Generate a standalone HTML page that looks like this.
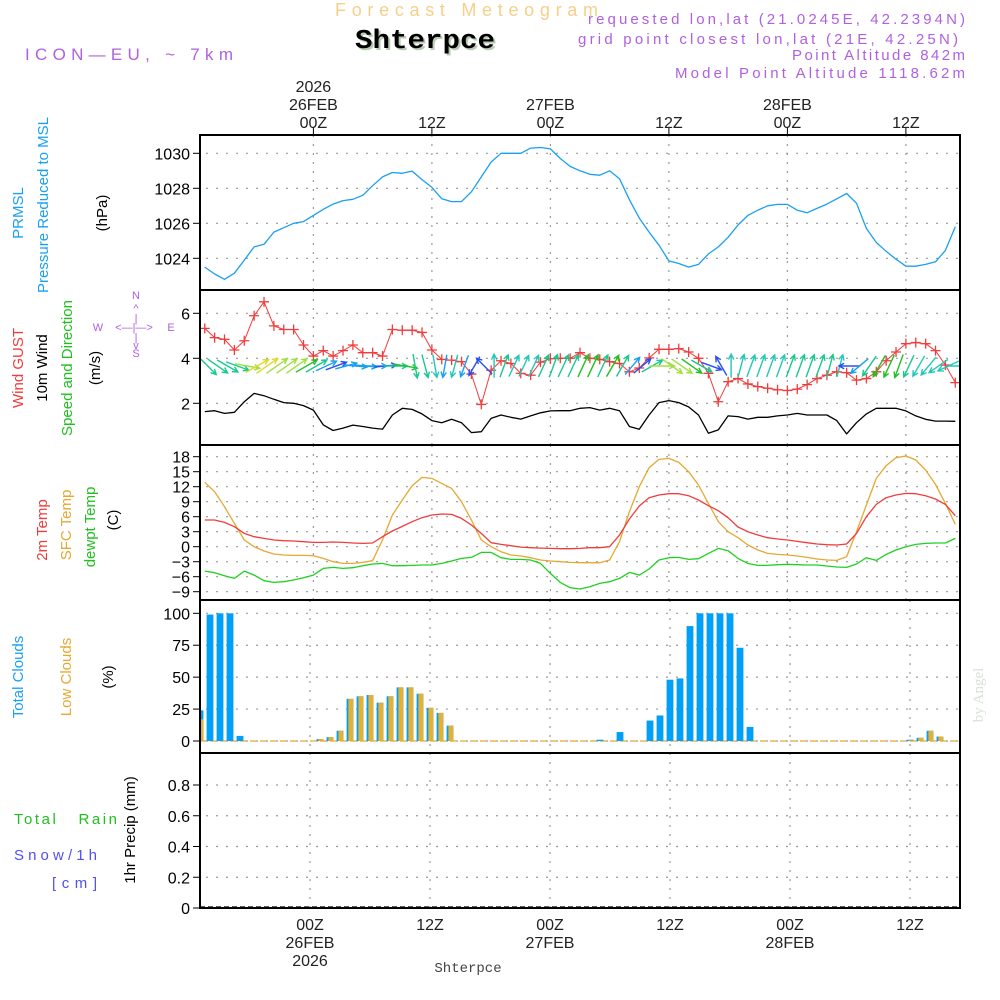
<!DOCTYPE html>
<html><head><meta charset="utf-8"><title>Meteogram Shterpce</title>
<style>
html,body{margin:0;padding:0;background:#fff;}
svg{display:block;font-family:"Liberation Sans",sans-serif;}
</style></head>
<body>
<svg id="chart" xmlns="http://www.w3.org/2000/svg" width="1000" height="1000" viewBox="0 0 1000 1000">
  <rect x="0" y="0" width="1000" height="1000" fill="#fff"/>
  <!-- header -->
  <text x="335" y="16" textLength="263" lengthAdjust="spacing" font-size="18" fill="#f6cf8a">Forecast Meteogram</text>
  <text x="357" y="50" textLength="140" lengthAdjust="spacingAndGlyphs" font-family="Liberation Mono, monospace" font-weight="bold" font-size="27" fill="#b9cbb4">Shterpce</text>
  <text x="355" y="48" textLength="140" lengthAdjust="spacingAndGlyphs" font-family="Liberation Mono, monospace" font-weight="bold" font-size="27" fill="#000">Shterpce</text>
  <text x="25" y="60" textLength="208" lengthAdjust="spacing" font-size="17" fill="#b060e0">ICON—EU, ~ 7km</text>
  <g font-size="15" fill="#b060e0">
    <text x="588" y="24" textLength="377" lengthAdjust="spacing">requested lon,lat (21.0245E, 42.2394N)</text>
    <text x="578" y="44" textLength="380" lengthAdjust="spacing">grid point closest lon,lat (21E, 42.25N)</text>
    <text x="792" y="60" textLength="173" lengthAdjust="spacing">Point Altitude 842m</text>
    <text x="675" y="78" textLength="290" lengthAdjust="spacing">Model Point Altitude 1118.62m</text>
  </g>
  <g id="g-grid"></g>
  <g id="g-data"></g>
  <g id="g-frame"></g>
  <g id="g-labels" font-size="16" fill="#000"></g>

  <!-- left titles -->
  <g font-size="15">
    <text transform="translate(23,213) rotate(-90)" text-anchor="middle" fill="#1aa0f0">PRMSL</text>
    <text transform="translate(48,205) rotate(-90)" text-anchor="middle" fill="#1aa0f0">Pressure Reduced to MSL</text>
    <text transform="translate(107,213) rotate(-90)" text-anchor="middle" fill="#000">(hPa)</text>
  </g>
  <g font-size="15">
    <text transform="translate(23,368) rotate(-90)" text-anchor="middle" fill="#f03c3c">Wind GUST</text>
    <text transform="translate(47,368) rotate(-90)" text-anchor="middle" fill="#000">10m Wind</text>
    <text transform="translate(72,368) rotate(-90)" text-anchor="middle" fill="#20c020">Speed and Direction</text>
    <text transform="translate(100,368) rotate(-90)" text-anchor="middle" fill="#000">(m/s)</text>
  </g>
  <g font-size="11" fill="#b060e0" text-anchor="middle">
    <text x="136" y="299">N</text>
    <text x="136" y="312">^</text>
    <text x="136" y="322">|</text>
    <text x="134" y="331">&lt;—|—&gt;</text>
    <text x="98" y="331">W</text>
    <text x="171" y="331">E</text>
    <text x="136" y="341">|</text>
    <text x="136" y="349">v</text>
    <text x="136" y="357">S</text>
  </g>
  <g font-size="15">
    <text transform="translate(47,530) rotate(-90)" text-anchor="middle" fill="#f03c3c">2m Temp</text>
    <text transform="translate(71,525) rotate(-90)" text-anchor="middle" fill="#e6a830">SFC Temp</text>
    <text transform="translate(95,527) rotate(-90)" text-anchor="middle" fill="#20c020">dewpt Temp</text>
    <text transform="translate(118,520) rotate(-90)" text-anchor="middle" fill="#000">(C)</text>
  </g>
  <g font-size="15">
    <text transform="translate(23,677) rotate(-90)" text-anchor="middle" fill="#1aa0f0">Total Clouds</text>
    <text transform="translate(71,677) rotate(-90)" text-anchor="middle" fill="#e6a830">Low Clouds</text>
    <text transform="translate(113,677) rotate(-90)" text-anchor="middle" fill="#000">(%)</text>
  </g>
  <g font-size="15">
    <text transform="translate(135,830) rotate(-90)" text-anchor="middle" fill="#000">1hr Precip (mm)</text>
    <text x="14" y="824" textLength="103" lengthAdjust="spacing" fill="#20c020">Total&#160;&#160;&#160;Rain</text>
    <text x="14" y="860" textLength="83" lengthAdjust="spacing" fill="#5050f0">Snow/1h</text>
    <text x="52" y="888" textLength="45" lengthAdjust="spacing" fill="#5050f0">[cm]</text>
  </g>
  <text x="468" y="972" text-anchor="middle" font-family="Liberation Mono, monospace" font-size="14" fill="#444">Shterpce</text>
  <text transform="translate(983,695) rotate(-90)" text-anchor="middle" font-family="Liberation Serif, serif" font-size="15" fill="#d8e2d6">by Angel</text>
</svg>
<script>
// ---- data (hourly, hours relative to 26FEB 00Z) ----
const hours = [-11,-10,-9,-8,-7,-6,-5,-4,-3,-2,-1,0,1,2,3,4,5,6,7,8,9,10,11,12,13,14,15,16,17,18,19,20,21,22,23,24,25,26,27,28,29,30,31,32,33,34,35,36,37,38,39,40,41,42,43,44,45,46,47,48,49,50,51,52,53,54,55,56,57,58,59,60,61,62,63,64,65];
const pressure = [1023.5,1023.1,1022.8,1023.15,1023.9,1024.65,1024.8,1025.5,1025.75,1026.0,1026.1,
 1026.45,1026.8,1027.1,1027.3,1027.37,1027.6,1028.15,1028.65,1028.9,1028.86,1028.98,1028.5,
 1028.05,1027.4,1027.24,1027.24,1027.8,1028.65,1029.5,1030.0,1030.0,1030.0,1030.3,1030.33,
 1030.25,1029.7,1029.25,1029.0,1028.8,1028.75,1029.0,1028.55,1027.35,1026.3,1025.5,1024.75,
 1023.85,1023.7,1023.5,1023.65,1024.25,1024.65,1025.2,1025.9,1026.45,1026.75,1027.0,1027.08,
 1027.08,1026.75,1026.6,1026.85,1027.1,1027.4,1027.7,1027.15,1025.7,1024.9,1024.4,1023.95,
 1023.55,1023.55,1023.65,1023.8,1024.45,1025.8];
const gust = [5.33,4.92,4.84,4.37,4.78,5.89,6.51,5.44,5.28,5.28,4.59,
 4.1,4.34,4.1,4.34,4.59,4.25,4.25,4.1,5.28,5.25,5.25,5.15,
 4.37,3.95,3.92,3.85,3.3,1.95,3.47,3.89,3.77,3.33,3.25,3.83,
 3.98,4.0,4.0,4.25,4.0,3.95,3.85,3.77,3.4,3.57,4.02,4.4,
 4.4,4.43,4.28,4.0,3.33,2.07,2.96,3.1,2.86,2.74,2.67,2.6,
 2.57,2.63,2.83,3.1,3.25,3.4,3.36,3.03,3.1,3.4,3.89,4.28,
 4.65,4.7,4.65,4.34,3.7,2.92];
const wind10 = [1.63,1.67,1.55,1.6,2.07,2.44,2.34,2.18,2.03,2.0,1.9,
 1.7,1.04,0.79,0.9,1.03,0.97,0.9,0.85,1.48,1.78,1.73,1.53,
 1.23,1.14,1.29,1.14,0.7,0.74,1.33,1.48,1.38,1.3,1.44,1.58,
 1.66,1.67,1.67,1.78,1.81,1.7,1.78,1.67,0.97,0.85,1.48,2.03,
 2.12,2.03,1.84,1.48,0.67,0.82,1.44,1.41,1.3,1.38,1.38,1.44,
 1.48,1.55,1.48,1.48,1.48,1.23,0.64,1.14,1.53,1.78,1.78,1.78,
 1.66,1.44,1.29,1.21,1.21,1.2];
const windDirTo = [135,125,120,110,100,60,55,55,55,55,60,
 60,65,70,75,95,95,90,85,90,100,170,165,
 170,190,195,200,210,315,0,20,25,25,25,25,
 20,25,25,25,25,25,30,30,40,50,60,90,
 125,125,125,120,110,330,0,15,20,20,20,20,
 20,20,20,20,15,15,270,230,215,210,205,200,
 205,210,220,235,245,90];
const temp2m = [5.34,5.34,4.87,4.0,2.67,2.0,1.67,1.34,1.2,1.14,1.0,
 0.87,0.87,0.94,0.87,0.74,0.67,0.74,2.0,3.14,4.07,5.0,5.8,
 6.34,6.54,6.47,5.67,4.34,2.67,0.8,0.47,0.2,-0.07,-0.2,-0.27,
 -0.33,-0.4,-0.4,-0.33,-0.2,-0.2,0,2.34,5.54,8.14,9.8,10.34,
 10.6,10.6,10.2,9.34,8.2,7.2,5.8,3.94,3.0,2.34,1.8,1.54,
 1.34,1.07,0.8,0.54,0.4,0.34,0.54,2.67,6.0,8.47,9.8,10.34,
 10.67,10.6,10.2,9.54,8.47,6.2];
const tempSfc = [12.87,11.0,8.0,4.67,1.34,0,-0.86,-1.46,-1.66,-1.73,-1.73,
 -1.8,-2.33,-3.0,-3.33,-3.33,-3.13,-2.8,1.34,6.34,9.34,12.2,13.87,
 13.67,12.67,11.67,9.0,5.34,1.34,0,-1.0,-1.66,-1.86,-2.2,-2.66,
 -2.86,-3.0,-3.13,-3.2,-3.2,-3.2,-2.66,1.0,7.0,12.0,15.8,17.47,
 17.67,16.87,15.0,12.34,8.67,5.0,3.0,1.8,0.34,-0.66,-1.33,-1.53,
 -1.66,-1.86,-2.13,-2.46,-2.66,-2.73,-2.0,3.0,8.34,13.67,16.2,17.8,
 18.14,17.34,15.34,12.47,8.67,4.47];
const dewpt = [-4.87,-5.2,-5.8,-6.33,-4.87,-5.67,-6.8,-7.13,-7.0,-6.66,-6.2,
 -5.67,-4.33,-4.13,-4.33,-4.2,-3.8,-3.46,-3.33,-3.8,-3.8,-3.73,-3.66,
 -3.66,-3.33,-2.86,-2.33,-2.13,-1.13,-1.13,-2.2,-2.53,-2.53,-2.66,-3.33,
 -5.33,-7.13,-8.2,-8.46,-8.0,-7.33,-7.0,-6.33,-5.13,-5.67,-4.46,-2.66,
 -2.2,-2.13,-2.53,-2.4,-1.33,-0.33,-0.8,-2.33,-3.33,-3.73,-3.73,-3.6,
 -3.53,-3.6,-3.66,-3.66,-3.86,-4.06,-4.13,-3.46,-2.2,-2.73,-1.53,-0.66,
 0,0.47,0.67,0.74,0.74,1.67];
const totalClouds = [24,99,100,100,4,0,0,0,0,0,0,
 0,1.5,3,8,33,35,36,30,35,42,42,37,
 26,22,12,0,0,0,0,0,0,0,0,0,
 0,0,0,0,0,1,0,7,0,0,16,20,
 48,49,90,100,100,100,100,73,11,0,0,0,
 0,0,0,0,0,0,0,0,0,0,0,0,
 1,2.5,8,3.5,0,0];
const lowClouds = [17,0,0,0,0,0,0,0,0,0,0,
 0,1.5,3,8,33,35,36,30,35,42,42,37,
 26,22,12,0,0,0,0,0,0,0,0,0,
 0,0,0,0,0,0,0,0,0,0,0,0,
 0,0,0,0,0,0,0,0,0,0,0,0,
 0,0,0,0,0,0,0,0,0,0,0,0,
 0.5,2.5,8,3.5,0,0];
const precip = [0,0,0,0,0,0,0,0,0,0,0,0,0,0,0,0,0,0,0,0,0,0,0,0,0,0,0,0,0,0,0,0,0,0,0,0,0,0,0,0,0,0,0,0,0,0,0,0,0,0,0,0,0,0,0,0,0,0,0,0,0,0,0,0,0,0,0,0,0,0,0,0,0,0,0,0,0];
const pressureTicks = [1024,1026,1028,1030];
const windTicks = [2,4,6];
const tempTicks = [-9,-6,-3,0,3,6,9,12,15,18];
const cloudTicks = [0,25,50,75,100];
const precipTicks = [0,0.2,0.4,0.6,0.8];
const timeTicks = [0,12,24,36,48,60];
const timeTickLabels = ["00Z","12Z","00Z","12Z","00Z","12Z"];
const dateLabels = ["26FEB","","27FEB","","28FEB",""];

// ---- axes ----
const X0 = 200, X1 = 960;
const xTop = h => 313.4 + h * 9.875;
const xBot = h => 310 + h * 10;
const yPres = p => 258.3 - (p - 1024) * 17.5;
const yWind = v => 448.3 - v * 22.5;
const yTemp = t => 546.7 - t * 5;
const yCloud = c => 741 - c * 1.277;
const yPrec = v => 908 - v * 153.75;
const panels = [
  {name:'pressure', top:135, bot:290, xm:xTop},
  {name:'wind', top:290, bot:445, xm:xTop},
  {name:'temperature', top:445, bot:600, xm:xTop},
  {name:'clouds', top:600, bot:753, xm:xBot},
  {name:'precip', top:753, bot:908, xm:xBot}
];

const NS = 'http://www.w3.org/2000/svg';
function mk(parent, tag, attrs, text) {
  const e = document.createElementNS(NS, tag);
  for (const k in attrs) e.setAttribute(k, attrs[k]);
  if (text !== undefined) e.textContent = text;
  parent.appendChild(e);
  return e;
}
const gGrid = document.getElementById('g-grid');
const gData = document.getElementById('g-data');
const gFrame = document.getElementById('g-frame');
const gLab = document.getElementById('g-labels');

const defs = mk(document.getElementById('chart'), 'defs', {});
panels.forEach(p => {
  const cp = mk(defs, 'clipPath', {id:'clip-' + p.name});
  mk(cp, 'rect', {x:X0, y:p.top, width:X1 - X0, height:p.bot - p.top});
});

panels.forEach(p => {
  timeTicks.forEach(h => {
    const l = mk(gGrid, 'line', {x1:p.xm(h), x2:p.xm(h), y1:p.top, y2:p.bot, stroke:'#9a9a9a', 'stroke-width':1.2, 'stroke-dasharray':'2,7'});
    
    
  });
});
function yAxis(ticks, ymap, fmt, name) {
  ticks.forEach(v => {
    const y = ymap(v);
    const g = mk(gGrid, 'line', {x1:X0 + 6, x2:X1, y1:y, y2:y, stroke:'#9a9a9a', 'stroke-width':1.2, 'stroke-dasharray':'2,8'});
    
    
    const t = mk(gFrame, 'line', {x1:X0 - 7, x2:X0, y1:y, y2:y, stroke:'#000', 'stroke-width':1});
    
    
    const lb = mk(gLab, 'text', {x:X0 - 10, y:y + 6, 'text-anchor':'end'}, fmt(v));
    
    
  });
}
yAxis(pressureTicks, yPres, v => String(v), 'pressure-axis');
yAxis(windTicks, yWind, v => String(v), 'wind-axis');
yAxis(tempTicks, yTemp, v => String(v).replace('-', '−'), 'temperature-axis');
yAxis(cloudTicks, yCloud, v => String(v), 'cloud-axis');
yAxis(precipTicks, yPrec, v => v === 0 ? '0' : v.toFixed(1), 'precip-axis');

panels.forEach(p => {
  const r = mk(gFrame, 'rect', {x:X0, y:p.top, width:X1 - X0, height:p.bot - p.top, fill:'none', stroke:'#000', 'stroke-width':2});
  
  
});

timeTicks.forEach((h, i) => {
  const xt = xTop(h);
  const tk = mk(gFrame, 'line', {x1:xt, x2:xt, y1:128, y2:135, stroke:'#000'});
  
  
  const t1 = mk(gLab, 'text', {x:xt, y:128, 'text-anchor':'middle', 'font-size':16, fill:'#222'}, timeTickLabels[i]);
  
  
  if (dateLabels[i]) {
    const t2 = mk(gLab, 'text', {x:xt, y:110, 'text-anchor':'middle', 'font-size':16, fill:'#222'}, dateLabels[i]);
    
    
  }
  const xb = xBot(h);
  const b1 = mk(gLab, 'text', {x:xb, y:930, 'text-anchor':'middle', 'font-size':16, fill:'#222'}, timeTickLabels[i]);
  
  
  if (dateLabels[i]) {
    const b2 = mk(gLab, 'text', {x:xb, y:948, 'text-anchor':'middle', 'font-size':16, fill:'#222'}, dateLabels[i]);
    
    
  }
});
const yr1 = mk(gLab, 'text', {x:xTop(0), y:92, 'text-anchor':'middle', 'font-size':16, fill:'#222'}, '2026');


const yr2 = mk(gLab, 'text', {x:xBot(0), y:966, 'text-anchor':'middle', 'font-size':16, fill:'#222'}, '2026');



function series(vals, xm, ym, color, name, clip, width) {
  const pts = vals.map((v, i) => xm(hours[i]).toFixed(1) + ',' + ym(v).toFixed(1)).join(' ');
  const pl = mk(gData, 'polyline', {points:pts, fill:'none', stroke:color, 'stroke-width':width || 1.3, 'clip-path':'url(#clip-' + clip + ')', 'stroke-linejoin':'round'});
  
  
  return pl;
}
series(pressure, xTop, yPres, '#1aa0f0', 'pressure-line', 'pressure');
series(wind10, xTop, yWind, '#000', 'wind-10m-line', 'wind');
series(gust, xTop, yWind, '#f03c3c', 'wind-gust-line', 'wind', 1);
gust.forEach((v, i) => {
  const x = xTop(hours[i]), y = yWind(v);
  const m = mk(gData, 'path', {d:`M${x-5},${y}H${x+5}M${x},${y-5}V${y+5}`, stroke:'#f03c3c', 'stroke-width':1.3, 'clip-path':'url(#clip-wind)'});
  
  
});
function windColor(s) {
  if (s < 0.9) return '#2a50f0';
  if (s < 1.2) return '#1aa0f0';
  if (s < 1.45) return '#20c8b8';
  if (s < 1.75) return '#18c890';
  if (s < 2.0) return '#20c020';
  if (s < 2.25) return '#a0e040';
  return '#e0d830';
}
windDirTo.forEach((d, i) => {
  const s = wind10[i];
  const L = 20 + s * 2.5;
  const rad = d * Math.PI / 180;
  const dx = Math.sin(rad) * L, dy = -Math.cos(rad) * L;
  const cx = xTop(hours[i]) + 3, cy = 366;
  const x1 = cx - dx / 2, y1 = cy - dy / 2, x2 = cx + dx / 2, y2 = cy + dy / 2;
  const ha = 6, a1 = rad + Math.PI * 0.85, a2 = rad - Math.PI * 0.85;
  const hx1 = x2 + Math.sin(a1) * ha, hy1 = y2 - Math.cos(a1) * ha;
  const hx2 = x2 + Math.sin(a2) * ha, hy2 = y2 - Math.cos(a2) * ha;
  const ar = mk(gData, 'path', {d:`M${x1.toFixed(1)},${y1.toFixed(1)}L${x2.toFixed(1)},${y2.toFixed(1)}M${hx1.toFixed(1)},${hy1.toFixed(1)}L${x2.toFixed(1)},${y2.toFixed(1)}L${hx2.toFixed(1)},${hy2.toFixed(1)}`, stroke:windColor(s), 'stroke-width':1.4, fill:'none', 'clip-path':'url(#clip-wind)'});
  
  
});
series(tempSfc, xTop, yTemp, '#e6a830', 'sfc-temp-line', 'temperature');
series(temp2m, xTop, yTemp, '#f03c3c', 'temp-2m-line', 'temperature');
series(dewpt, xTop, yTemp, '#20d020', 'dewpoint-line', 'temperature');

const base = mk(gData, 'line', {x1:X0, x2:X1, y1:yCloud(0), y2:yCloud(0), stroke:'#e6a830', 'stroke-width':1.2, 'stroke-dasharray':'6,4'});


totalClouds.forEach((c, i) => {
  const x = xBot(hours[i]);
  if (c > 0) {
    const b = mk(gData, 'rect', {x:x - 3.4, y:yCloud(c), width:6.8, height:yCloud(0) - yCloud(c), fill:'#00a0f8', 'clip-path':'url(#clip-clouds)'});
    
    
  }
  const lc = lowClouds[i];
  if (lc > 0) {
    const o = mk(gData, 'rect', {x:x - 1.6, y:yCloud(lc), width:4.9, height:yCloud(0) - yCloud(lc), fill:'#e8b030', 'clip-path':'url(#clip-clouds)'});
    
    
  }
});
const pb = mk(gData, 'line', {x1:X0, x2:X1, y1:yPrec(0) - 1, y2:yPrec(0) - 1, stroke:'#000', 'stroke-width':1.2, 'stroke-dasharray':'5,3'});


precip.forEach((v, i) => {
  if (v > 0) {
    const r = mk(gData, 'rect', {x:xBot(hours[i]) - 3, y:yPrec(v), width:6, height:yPrec(0) - yPrec(v), fill:'#20c020', 'clip-path':'url(#clip-precip)'});
    
    
  }
});
</script>
</body></html>
